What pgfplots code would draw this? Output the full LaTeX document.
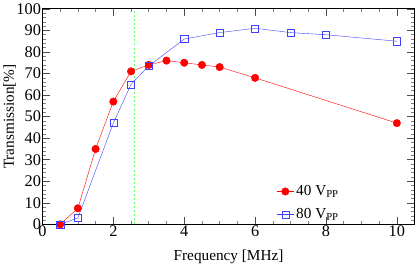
\documentclass[border=0pt]{standalone}
\usepackage{pgfplots}
\pgfplotsset{compat=1.18}
\usepackage{fontspec}
\setmainfont{Liberation Serif}
\begin{document}
\begin{tikzpicture}[x=1pt,y=1pt]
\begin{axis}[
  scale only axis, width=366pt, height=212pt,
  xmin=0, xmax=10.5, ymin=0, ymax=100,
  xtick={0,2,4,6,8,10}, minor xtick={0.5,1,...,10.5},
  ytick={0,10,...,100}, minor ytick={2,4,...,98},
  tick align=inside, major tick length=7pt, minor tick length=3.5pt,
  tick style={black!70, line width=0.7pt},
  minor tick style={gray, line width=0.6pt},
  axis line style={line width=0.8pt},
  ticklabel style={font=\fontsize{16}{16}\selectfont},
  xticklabel style={yshift=2pt},
  yticklabel style={xshift=2pt},
  /pgf/number format/assume math mode=true,
  xlabel={Frequency [MHz]}, ylabel={Transmission[\%]},
  label style={font=\fontsize{15}{15}\selectfont},
  xlabel style={yshift=-6pt},
  ylabel style={at={(axis description cs:-0.088,0.5)}, anchor=center},
  legend style={draw=none, fill=none, at={(0.62,0.0)}, anchor=south west, font=\fontsize{15}{15}\selectfont, row sep=7pt},
  legend cell align=left,
]
\addplot[green!60!white, dash pattern=on 2pt off 2pt, line width=0.8pt, forget plot] coordinates {(2.6,0) (2.6,100)};
\addplot[red, mark=*, mark size=3.7pt, mark options={fill=red}] coordinates {
(0.5,0) (1,7.5) (1.5,35) (2,57) (2.5,71) (3,74) (3.5,76) (4,75) (4.5,74) (5,73) (6,68) (10,47)};
\addlegendentry{40 V\textsubscript{PP}}
\addplot[blue!75!white, mark=square, mark size=3.5pt, mark options={fill=none}] coordinates {
(0.5,0) (1,3) (2,47) (2.5,65) (3,73.5) (4,86) (5,89) (6,91) (7,89) (8,88) (10,85)};
\addlegendentry{80 V\textsubscript{PP}}
\end{axis}
\end{tikzpicture}
\end{document}
